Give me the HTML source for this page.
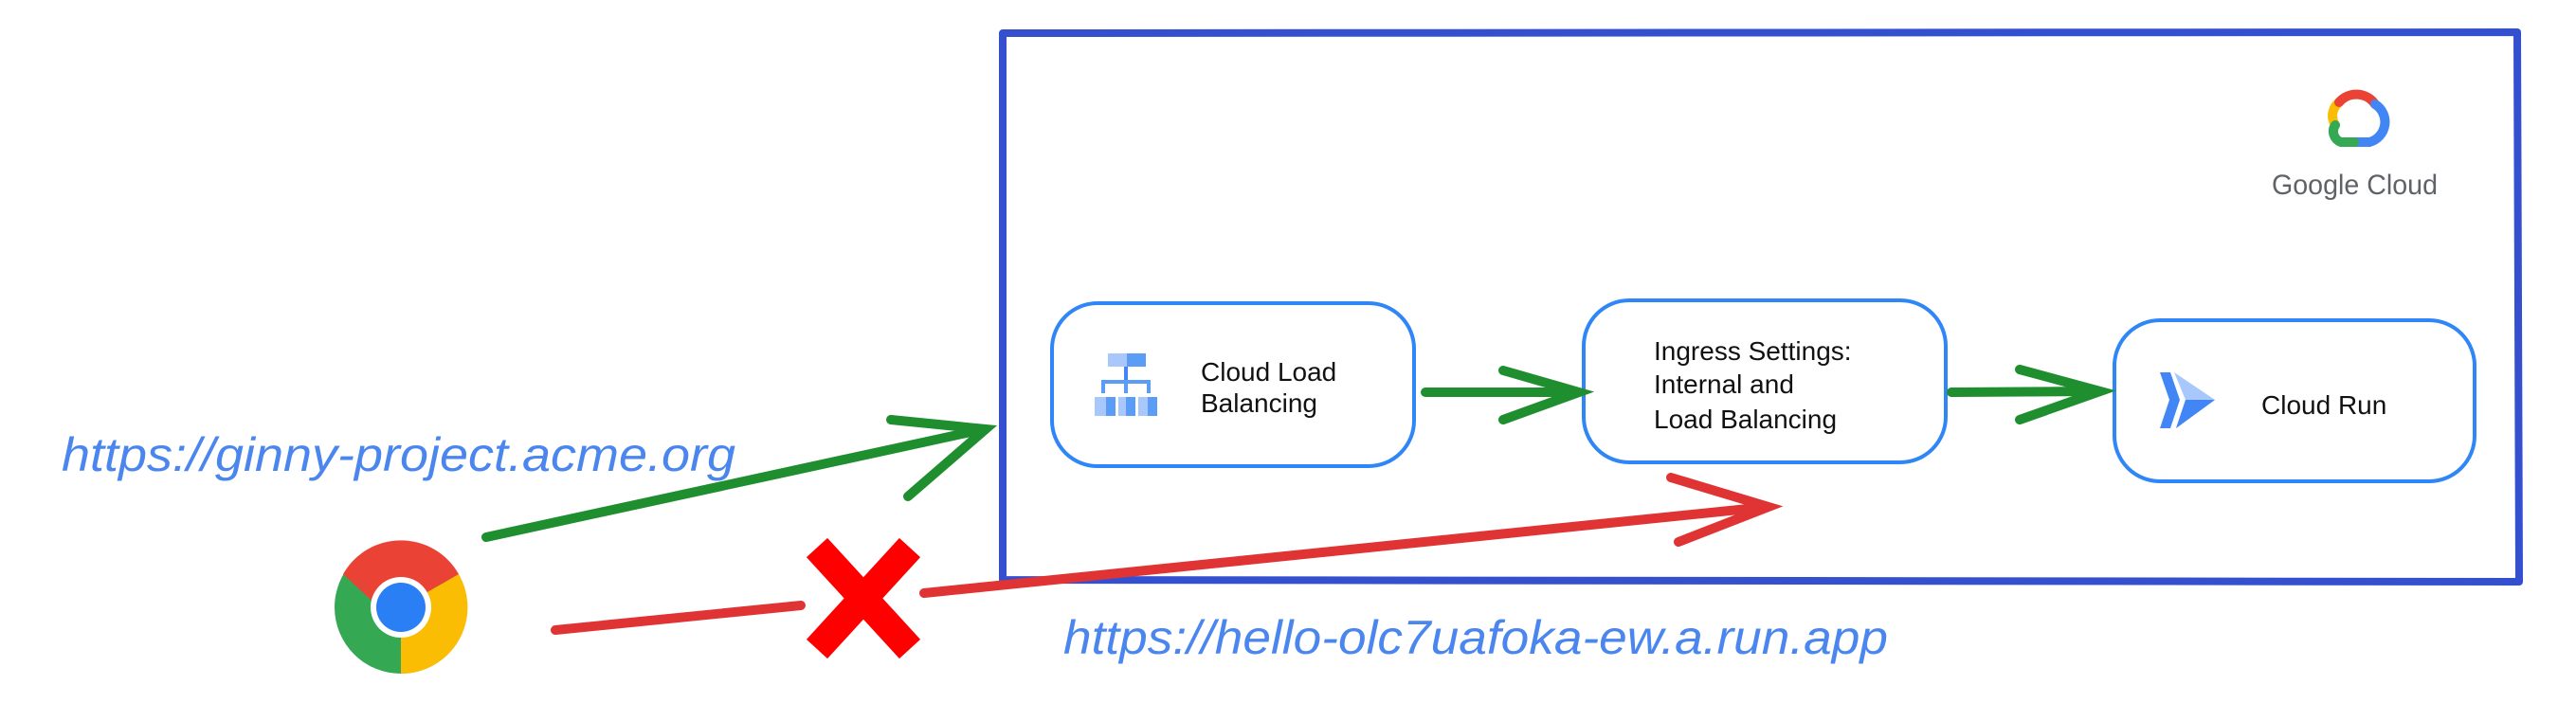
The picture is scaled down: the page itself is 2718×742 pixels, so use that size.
<!DOCTYPE html>
<html><head><meta charset="utf-8"><style>
html,body{margin:0;padding:0;background:#fff;}
svg{display:block;}
</style></head><body>
<svg width="2718" height="742" viewBox="0 0 2718 742" xmlns="http://www.w3.org/2000/svg">
<rect width="2718" height="742" fill="#fff"/>
<!-- frame -->
<path d="M1058 35 L2656 34 L2658 614 L1058 612 Z" fill="none" stroke="#3450cf" stroke-width="8" stroke-linejoin="round"/>
<!-- boxes -->
<rect x="1110" y="320" width="382" height="172" rx="48" fill="#fff" stroke="#2f86f6" stroke-width="4"/>
<rect x="1671" y="317" width="382" height="171" rx="48" fill="#fff" stroke="#2f86f6" stroke-width="4"/>
<rect x="2231" y="338" width="380" height="170" rx="48" fill="#fff" stroke="#2f86f6" stroke-width="4"/>
<g font-family="Liberation Sans, sans-serif" font-size="28" fill="#111">
<text x="1267" y="402">Cloud Load</text>
<text x="1267" y="435">Balancing</text>
<text x="1745" y="380">Ingress Settings:</text>
<text x="1745" y="415">Internal and</text>
<text x="1745" y="452">Load Balancing</text>
<text x="2386" y="437">Cloud Run</text>
</g>
<!-- LB icon -->
<g>
<rect x="1169" y="373" width="20" height="14" fill="#a8c8fb"/>
<rect x="1189" y="373" width="20" height="14" fill="#5b9cf6"/>
<rect x="1186" y="387" width="4" height="16" fill="#4285f4"/>
<path d="M1164 415 V403 H1212 V415 M1188 403 V415" fill="none" stroke="#5b9cf6" stroke-width="4"/>
<rect x="1155" y="419" width="12" height="20" fill="#a8c8fb"/><rect x="1167" y="419" width="10" height="20" fill="#5b9cf6"/>
<rect x="1180" y="419" width="8" height="20" fill="#a8c8fb"/><rect x="1188" y="419" width="10" height="20" fill="#5b9cf6"/>
<rect x="1201" y="419" width="10" height="20" fill="#a8c8fb"/><rect x="1211" y="419" width="10" height="20" fill="#5b9cf6"/>
</g>
<!-- Cloud Run icon -->
<g>
<polygon points="2279,393 2290,393 2300,422 2290,452 2279,452 2289,422" fill="#4285f4"/>
<polygon points="2294,393 2337,422 2296,452 2306,422" fill="#a8c8fb"/>
<polygon points="2306,422 2337,422 2296,452" fill="#4285f4"/>
</g>
<!-- Google Cloud logo -->
<g fill="none" stroke-width="10" stroke-linecap="round">
<path d="M2464 132 A18 18 0 0 1 2468 108" stroke="#fbbc04"/>
<path d="M2468 108 A24 24 0 0 1 2506 110" stroke="#ea4335"/>
<path d="M2506 110 A22 22 0 0 1 2500 150" stroke="#4285f4"/>
<path d="M2500 150 H2484" stroke="#4285f4"/>
<path d="M2484 150 H2470 A12 12 0 0 1 2464 132" stroke="#34a853"/>
</g>
<text x="2397" y="205" font-family="Liberation Sans, sans-serif" font-size="30" fill="#5f6368" textLength="175" lengthAdjust="spacingAndGlyphs">Google Cloud</text>
<!-- green arrows -->
<g stroke="#1e8e2e" stroke-width="10" stroke-linecap="round" fill="none">
<path d="M513 567 L1038 453"/>
<path d="M940 443 L1040 453 L958 524"/>
<path d="M1504 414 L1664 414"/>
<path d="M1586 391 L1666 414 L1586 443"/>
<path d="M2059 414 L2214 413"/>
<path d="M2131 390 L2216 413 L2131 443"/>
</g>
<!-- red arrow -->
<g stroke="#e03333" stroke-width="10" stroke-linecap="round" fill="none">
<path d="M586 665 L845 639"/>
<path d="M975 626 L1864 535"/>
<path d="M1763 504 L1866 535 L1771 572"/>
</g>
<!-- red X -->
<g stroke="#ff0000" stroke-width="30">
<line x1="862" y1="578" x2="960" y2="685"/>
<line x1="960" y1="578" x2="862" y2="685"/>
</g>
<!-- chrome -->
<g>
<circle cx="423" cy="641" r="70" fill="#34a853"/>
<path d="M423 641 L362 606 A70 70 0 0 1 484 606 Z" fill="#ea4335"/>
<path d="M423 641 L484 606 A70 70 0 0 1 423 711 Z" fill="#fbbc04"/>
<path d="M362 606 L423 641 L400 641 Z" fill="#ea4335"/>
<circle cx="423" cy="641" r="32" fill="#fff"/>
<circle cx="423" cy="641" r="26" fill="#2b7ff5"/>
</g>
<!-- urls -->
<g font-family="Liberation Sans, sans-serif" font-style="italic" font-size="50" fill="#4a86ee">
<text x="65" y="497" textLength="711" lengthAdjust="spacingAndGlyphs">https://ginny-project.acme.org</text>
<text x="1122" y="690" textLength="870" lengthAdjust="spacingAndGlyphs">https://hello-olc7uafoka-ew.a.run.app</text>
</g>
</svg>
</body></html>
